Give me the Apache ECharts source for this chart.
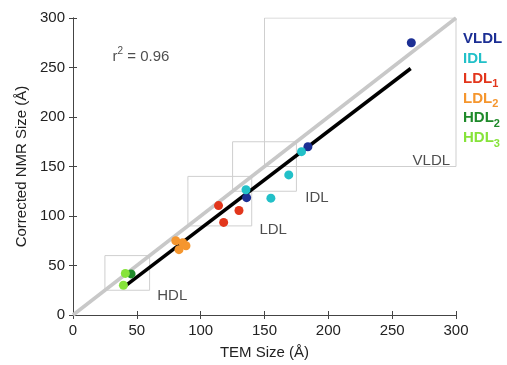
<!DOCTYPE html>
<html>
<head>
<meta charset="utf-8">
<script src="https://cdn.jsdelivr.net/npm/echarts@6/dist/echarts.min.js"></script>
<style>
  html, body { margin: 0; padding: 0; background: #fff; }
  #chart { width: 507px; height: 365px; }
</style>
</head>
<body>
<div id="chart"></div>
<script>
// points: [TEM size, corrected NMR size]
const vldlPts = [[265, 275], [184, 170], [136, 118.5]];
const idlPts = [[179, 165], [169, 141.5], [135.5, 126.5], [155, 118]];
const ldl1Pts = [[114, 110.5], [130, 105.5], [118, 93.5]];
const ldl2Pts = [[80.5, 75], [86, 73], [83, 66], [88.5, 70]];
const hdl2Pts = [[45.5, 41.5]];
const hdl3Pts = [[41, 42], [39.5, 30]];

const identityLine = [[0, 0], [300, 300]];
const fitLine = [[41, 29.5], [264.5, 249]];

// size windows of each class (lo, hi on both axes)
const regionNames = ['HDL', 'LDL', 'IDL', 'VLDL'];
const regionBoxes = [[25, 60], [90, 140], [125, 175], [150, 300]];
const regionLabelAt = [[66, 19], [146, 86], [182, 118.5], [266, 156]];

const axisTicks = [0, 50, 100, 150, 200, 250, 300];
const rSquared = '0.96';

const classNames = ['VLDL', 'IDL', 'LDL', 'LDL', 'HDL', 'HDL'];
const classSubs = ['', '', '1', '2', '2', '3'];
const classColors = ['#1c2f94', '#22c0c8', '#e2361c', '#f5962e', '#1f8a2a', '#86e33a'];
const classPts = [vldlPts, idlPts, ldl1Pts, ldl2Pts, hdl2Pts, hdl3Pts];

const chart = echarts.init(document.getElementById('chart'));

const font = 'Liberation Sans, Arial, sans-serif';

function boxPath(b) {
  return [[b[0], b[0]], [b[1], b[0]], [b[1], b[1]], [b[0], b[1]], [b[0], b[0]]];
}

function frameAxis(pos, withLabels) {
  return {
    type: 'value',
    position: pos,
    min: axisTicks[0],
    max: axisTicks[axisTicks.length - 1],
    interval: 50,
    axisLine: { show: true, lineStyle: { color: '#444', width: 1 } },
    axisTick: { show: true, inside: true, length: 4, lineStyle: { color: '#444' } },
    axisLabel: { show: withLabels, fontSize: 15, color: '#222', fontFamily: font },
    splitLine: { show: false }
  };
}

const series = [];

regionBoxes.forEach(function (b) {
  series.push({
    type: 'line',
    data: boxPath(b),
    symbol: 'none',
    silent: true,
    lineStyle: { color: '#cfcfcf', width: 1 },
    z: 1
  });
});

series.push({
  type: 'line',
  data: identityLine,
  symbol: 'none',
  lineStyle: { color: '#c8c8c8', width: 3.5 },
  z: 2
});

series.push({
  type: 'line',
  data: fitLine,
  symbol: 'none',
  lineStyle: { color: '#000', width: 3.5 },
  z: 3
});

classPts.forEach(function (pts, i) {
  series.push({
    name: classNames[i] + classSubs[i],
    type: 'scatter',
    data: pts,
    symbolSize: 9,
    itemStyle: { color: classColors[i], opacity: 1 },
    z: 5
  });
});

series.push({
  type: 'scatter',
  symbolSize: 0,
  silent: true,
  data: regionLabelAt.map(function (p, i) { return { value: p, name: regionNames[i] }; }),
  label: {
    show: true,
    position: 'right',
    distance: 0,
    formatter: '{b}',
    fontSize: 15,
    color: '#222',
    fontFamily: font
  },
  z: 6
});

series.push({
  type: 'scatter',
  symbolSize: 0,
  silent: true,
  data: [{ value: [31, 261], name: rSquared }],
  label: {
    show: true,
    position: 'right',
    distance: 0,
    formatter: 'r{sup|2} = {b}',
    fontSize: 15,
    color: '#222',
    fontFamily: font,
    lineHeight: 20,
    rich: {
      sup: { fontSize: 10, verticalAlign: 'top', lineHeight: 20, color: '#222', fontFamily: font }
    }
  },
  z: 6
});

// coloured class key on the right
const keyText = [];
classNames.forEach(function (n, i) {
  keyText.push({
    type: 'text',
    left: 463,
    top: 28 + i * 19.8,
    style: {
      text: n + (classSubs[i] ? '{s|' + classSubs[i] + '}' : ''),
      fill: classColors[i],
      font: 'bold 15px ' + font,
      lineHeight: 22,
      rich: {
        s: { fontSize: 11, fontWeight: 'bold', fill: classColors[i], verticalAlign: 'bottom', lineHeight: 22, fontFamily: font }
      }
    }
  });
});

chart.setOption({
  animation: false,
  backgroundColor: '#fff',
  grid: { left: 73, right: 51, top: 18, bottom: 46 },
  xAxis: [
    Object.assign(frameAxis('bottom', true), {
      name: 'TEM Size (Å)',
      nameLocation: 'middle',
      nameGap: 30,
      nameTextStyle: { fontSize: 15, color: '#222', fontFamily: font }
    }),
    frameAxis('top', false)
  ],
  yAxis: [
    Object.assign(frameAxis('left', true), {
      name: 'Corrected NMR Size (Å)',
      nameLocation: 'middle',
      nameGap: 42,
      nameTextStyle: { fontSize: 15, color: '#222', fontFamily: font }
    }),
    frameAxis('right', false)
  ],
  series: series,
  graphic: keyText
});
</script>
</body>
</html>
